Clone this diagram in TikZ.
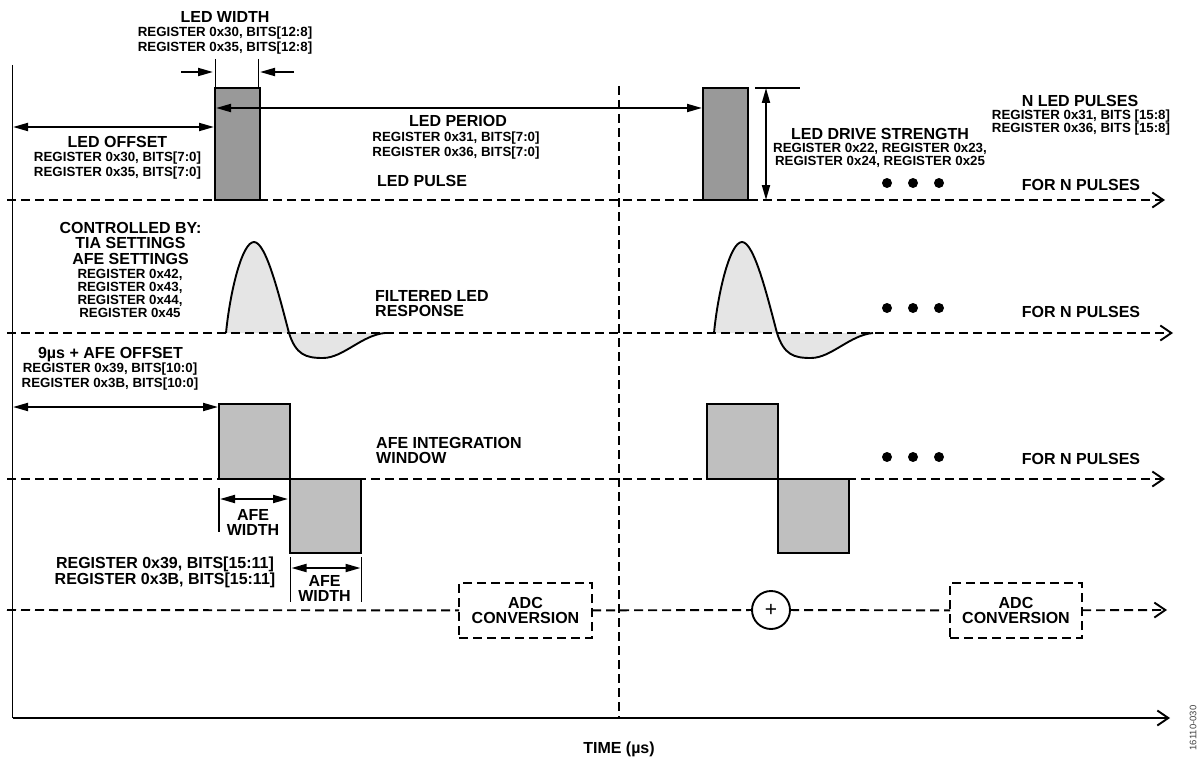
\documentclass[tikz,border=0pt]{standalone}
\usepackage{fontspec}
\setmainfont{Liberation Sans}
\usetikzlibrary{arrows.meta}

\definecolor{ledgray}{gray}{0.6}
\definecolor{afegray}{gray}{0.75}
\definecolor{respgray}{gray}{0.9}

\newcommand{\hdfont}{\fontsize{16}{15.5}\selectfont\bfseries}
\newcommand{\regfont}{\fontsize{13.3}{15}\selectfont\bfseries}
\newcommand{\regtight}{\fontsize{13.3}{13}\selectfont\bfseries}

\tikzset{
  axisline/.style={line width=1.9pt},
  dashline/.style={line width=1.9pt, dash pattern=on 9pt off 5pt},
  axisarrow/.style={-{Straight Barb[length=11pt,width=15pt]}},
  dimline/.style={line width=1.9pt, {Triangle[length=15pt,width=8pt]}-{Triangle[length=15pt,width=8pt]}},
  halfdim/.style={line width=1.9pt, -{Triangle[length=15pt,width=8pt]}},
  extline/.style={line width=1.1pt},
  waveline/.style={line width=1.9pt},
  ledbox/.style={draw, line width=1.9pt, fill=ledgray, minimum width=45pt, minimum height=112pt, inner sep=0pt, outer sep=0pt},
  afebox/.style={draw, line width=1.9pt, fill=afegray, minimum width=71pt, minimum height=75pt, inner sep=0pt, outer sep=0pt},
  adcbox/.style={draw, dashline, fill=white, minimum width=133pt, minimum height=55pt, align=center, font=\hdfont, inner sep=0pt, outer sep=0pt},
  sumnode/.style={draw, circle, line width=1.9pt, fill=white, minimum size=38pt, inner sep=0pt, outer sep=0pt, font=\fontsize{21}{21}\selectfont},
  hd/.style={font=\hdfont, align=center, inner sep=0pt, anchor=north},
  reg/.style={font=\regfont, align=center, inner sep=0pt, anchor=north},
}

\begin{document}
\begin{tikzpicture}[x=1pt, y=-1pt]
    \useasboundingbox (0,0) rectangle (1202,757);

    % axes
    \coordinate (axtop) at (12.5,65);
    \coordinate (axorig) at (12.5,718);
    \coordinate (axend) at (1170,718);
    \coordinate (midtop) at (619,86);
    \coordinate (midbot) at (619,718);

    \draw[axisline] (axtop) -- (axorig);
    \draw[axisline, axisarrow] (axorig) -- (axend);
    \draw[dashline] (midtop) -- (midbot);

    % filtered response fills
    \fill[respgray] (226,333) .. controls (230,292) and (242,242) .. (254,242) .. controls (266,242) and (279,295) .. (289,333) .. controls (296,355) and (306,358) .. (323,358) .. controls (343,358) and (362,335) .. (385,333) -- cycle;
    \fill[respgray] (714,333) .. controls (718,292) and (730,242) .. (742,242) .. controls (754,242) and (767,295) .. (777,333) .. controls (784,355) and (794,358) .. (811,358) .. controls (831,358) and (850,335) .. (873,333) -- cycle;

    % rows
    \coordinate (ledS) at (7,200);
    \coordinate (ledE) at (1165,200);
    \coordinate (respS) at (7,333);
    \coordinate (respE) at (1173,333);
    \coordinate (afeS) at (7,479);
    \coordinate (afeE) at (1165,479);
    \coordinate (adcS) at (7,610);
    \coordinate (adcE) at (1167,610);

    \draw[dashline, axisarrow] (ledS) -- (ledE);
    \draw[dashline, axisarrow] (respS) -- (respE);
    \draw[dashline, axisarrow] (afeS) -- (afeE);

    % filtered response curves
    \draw[waveline] (226,333) .. controls (230,292) and (242,242) .. (254,242) .. controls (266,242) and (279,295) .. (289,333) .. controls (296,355) and (306,358) .. (323,358) .. controls (343,358) and (362,335) .. (385,333);
    \draw[waveline] (714,333) .. controls (718,292) and (730,242) .. (742,242) .. controls (754,242) and (767,295) .. (777,333) .. controls (784,355) and (794,358) .. (811,358) .. controls (831,358) and (850,335) .. (873,333);

    % LED pulses
    \node[ledbox] (led1) at (237.5,144) {};
    \node[ledbox] (led2) at (725.5,144) {};

    % AFE integration windows
    \node[afebox] (afe1p) at (254.5,441.5) {};
    \node[afebox, minimum height=74pt] (afe1n) at (325.5,516) {};
    \node[afebox] (afe2p) at (742.5,441.5) {};
    \node[afebox, minimum height=74pt] (afe2n) at (813.5,516) {};

    % ADC row
    \node[adcbox] (adc1) at (525.5,610.5) {ADC\\CONVERSION};
    \node[sumnode] (sum) at (771,610) {+};
    \node[adcbox, minimum width=132pt] (adc2) at (1016,610.5) {ADC\\CONVERSION};

    \draw[dashline] (adcS) -- (adc1);
    \draw[dashline] (adc1) -- (sum);
    \draw[dashline] (sum) -- (adc2);
    \draw[dashline, axisarrow] (adc2) -- (adcE);

    % LED width
    \coordinate (wL) at (181,72);
    \coordinate (wLtip) at (213,72);
    \coordinate (wR) at (294,72);
    \coordinate (wRtip) at (260,72);
    \draw[extline] (215.5,59) -- (215.5,88);
    \draw[extline] (258.5,59) -- (258.5,88);
    \draw[halfdim] (wL) -- (wLtip);
    \draw[halfdim] (wR) -- (wRtip);

    % LED offset, period, drive strength
    \coordinate (offL) at (13,127);
    \coordinate (offR) at (214,127);
    \coordinate (perL) at (216,108);
    \coordinate (perR) at (702,108);
    \coordinate (drvT) at (766,88);
    \coordinate (drvB) at (766,200);
    \draw[dimline] (offL) -- (offR);
    \draw[dimline] (perL) -- (perR);
    \draw[extline] (755,88) -- (800,88);
    \draw[dimline] (drvT) -- (drvB);

    % AFE offset and widths
    \coordinate (aoffL) at (13,407);
    \coordinate (aoffR) at (218,407);
    \coordinate (aw1L) at (220,499);
    \coordinate (aw1R) at (288,499);
    \coordinate (aw2L) at (291.5,568);
    \coordinate (aw2R) at (360.5,568);
    \draw[dimline] (aoffL) -- (aoffR);
    \draw[extline] (219,488) -- (219,532);
    \draw[dimline] (aw1L) -- (aw1R);
    \draw[extline] (290.5,557) -- (290.5,602);
    \draw[extline] (361.5,557) -- (361.5,602);
    \draw[dimline] (aw2L) -- (aw2R);

    % dots for N pulses
    \fill (887,183) circle (5pt);
    \fill (913,183) circle (5pt);
    \fill (939,183) circle (5pt);
    \fill (887,308) circle (5pt);
    \fill (913,308) circle (5pt);
    \fill (939,308) circle (5pt);
    \fill (887,457) circle (5pt);
    \fill (913,457) circle (5pt);
    \fill (939,457) circle (5pt);

    % labels
    \node[hd] (wtitle) at (225,11.5) {LED WIDTH};
    \node[reg] (wreg) at (225,27) {REGISTER 0x30, BITS[12:8]\\REGISTER 0x35, BITS[12:8]};
    \node[hd] (otitle) at (117.5,136) {LED OFFSET};
    \node[reg] (oreg) at (117.5,152) {REGISTER 0x30, BITS[7:0]\\REGISTER 0x35, BITS[7:0]};
    \node[hd] (ptitle) at (458,115) {LED PERIOD};
    \node[reg] (preg) at (456,131.5) {REGISTER 0x31, BITS[7:0]\\REGISTER 0x36, BITS[7:0]};
    \node[hd, anchor=north west, align=left] (pulselbl) at (377,175) {LED PULSE};
    \node[hd] (dtitle) at (880,128) {LED DRIVE STRENGTH};
    \node[reg, font=\regtight] (dreg) at (880,143.5) {REGISTER 0x22, REGISTER 0x23,\\REGISTER 0x24, REGISTER 0x25};
    \node[hd] (ntitle) at (1080,95) {N LED PULSES};
    \node[reg, font=\regtight] (nreg) at (1081,110) {REGISTER 0x31, BITS [15:8]\\REGISTER 0x36, BITS [15:8]};
    \node[hd] (for1) at (1081,179.5) {FOR N PULSES};

    \node[hd] (ctrl) at (130.5,222) {CONTROLLED BY:\\TIA SETTINGS\\AFE SETTINGS};
    \node[reg, font=\regtight] (creg) at (130,269) {REGISTER 0x42,\\REGISTER 0x43,\\REGISTER 0x44,\\REGISTER 0x45};
    \node[hd, anchor=north west, align=left] (filt) at (375,290) {FILTERED LED\\RESPONSE};
    \node[hd] (for2) at (1081,306) {FOR N PULSES};

    \node[hd] (atitle) at (110.5,347) {9µs + AFE OFFSET};
    \node[reg] (areg) at (110,363) {REGISTER 0x39, BITS[10:0]\\REGISTER 0x3B, BITS[10:0]};
    \node[hd, anchor=north west, align=left] (integ) at (376,437) {AFE INTEGRATION\\WINDOW};
    \node[hd] (for3) at (1081,453) {FOR N PULSES};
    \node[hd] (aw1) at (253,509) {AFE\\WIDTH};
    \node[hd] (aw2) at (324.5,575) {AFE\\WIDTH};
    \node[hd] (wreg2) at (165,557) {REGISTER 0x39, BITS[15:11]\\REGISTER 0x3B, BITS[15:11]};

    \node[hd] (time) at (619,742) {TIME (µs)};
    \node[rotate=90, inner sep=0pt, text=black!75, font=\fontsize{9.5}{10}\selectfont] (docid) at (1193,728) {16110-030};
\end{tikzpicture}
\end{document}
